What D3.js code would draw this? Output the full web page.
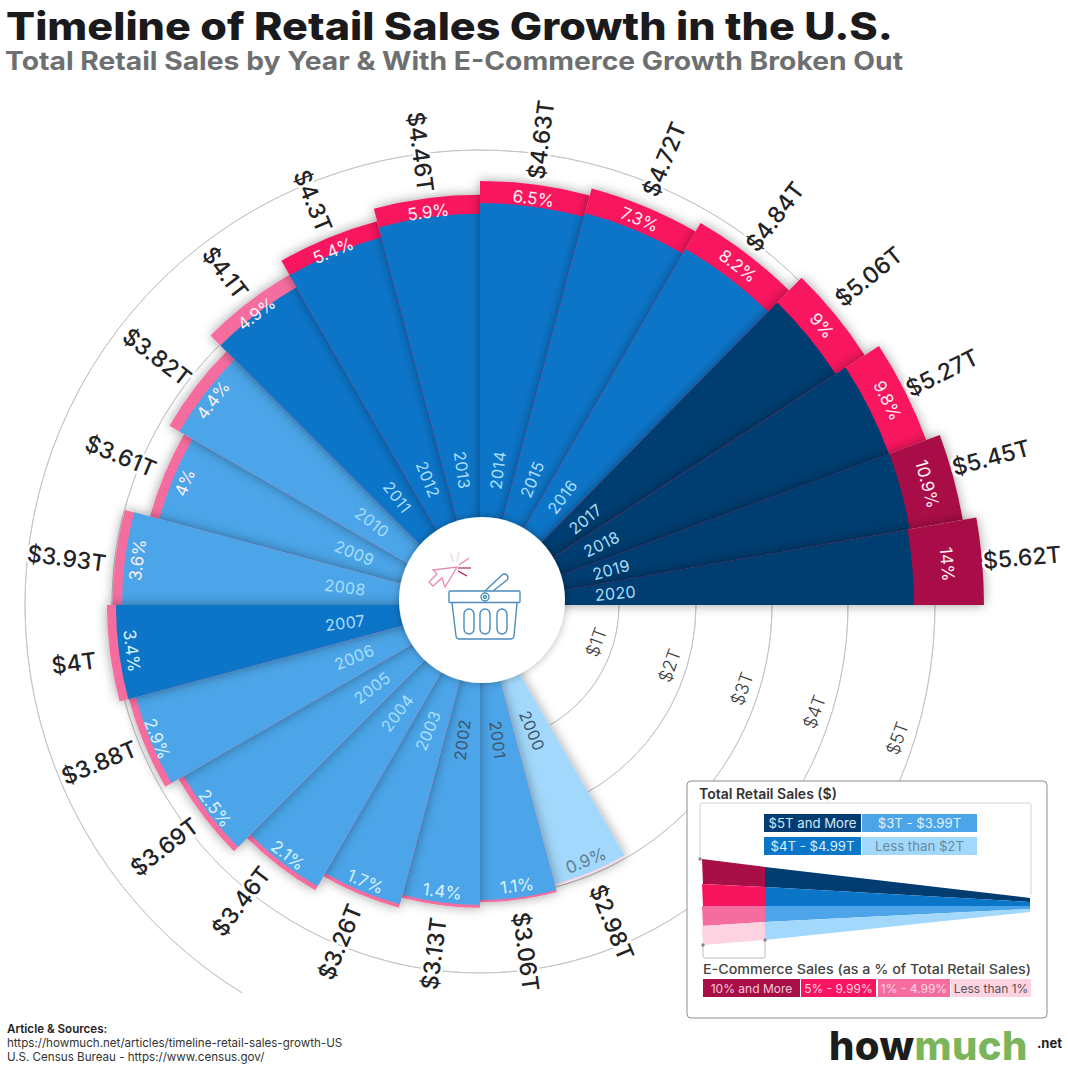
<!DOCTYPE html>
<html><head><meta charset="utf-8">
<script src="https://cdn.jsdelivr.net/npm/d3@7/dist/d3.min.js"></script>
<style>html,body{margin:0;padding:0;background:#fff}svg{display:block}text{font-family:Inter,"Open Sans",sans-serif}</style>
</head><body><svg id="c" width="1068" height="1071" viewBox="0 0 1068 1071"></svg>
<script>
const years=[2000,2001,2002,2003,2004,2005,2006,2007,2008,2009,2010,2011,2012,2013,2014,2015,2016,2017,2018,2019,2020];
const totals=[2.98,3.06,3.13,3.26,3.46,3.69,3.88,4,3.93,3.61,3.82,4.1,4.3,4.46,4.63,4.72,4.84,5.06,5.27,5.45,5.62];
const totalLabels=["$2.98T","$3.06T","$3.13T","$3.26T","$3.46T","$3.69T","$3.88T","$4T","$3.93T","$3.61T","$3.82T","$4.1T","$4.3T","$4.46T","$4.63T","$4.72T","$4.84T","$5.06T","$5.27T","$5.45T","$5.62T"];
const shares=[0.9,1.1,1.4,1.7,2.1,2.5,2.9,3.4,3.6,4,4.4,4.9,5.4,5.9,6.5,7.3,8.2,9,9.8,10.9,14];
const gridValues=[1,2,3,4,5];
const gridLabels=["$1T","$2T","$3T","$4T","$5T"];
const salesLegend=["$5T and More","$3T - $3.99T","$4T - $4.99T","Less than $2T"];
const shareLegend=["10% and More","5% - 9.99%","1% - 4.99%","Less than 1%"];
const title="Timeline of Retail Sales Growth in the U.S.";
const subtitle="Total Retail Sales by Year & With E-Commerce Growth Broken Out";
const sourceLines=["Article & Sources:","https://howmuch.net/articles/timeline-retail-sales-growth-US","U.S. Census Bureau - https://www.census.gov/"];

const svg=d3.select("#c");
const cx=480,cy=605;
const rad=d=>d*Math.PI/180;
const angle=d3.scaleLinear().domain([2000,2016,2017,2018,2019,2020,2021]).range([150,390,404.5,417,429.7,440,450]);
const rScale=d3.scaleLinear().domain([0,5.62]).range([50,504]);
const gridR=d3.scaleLinear().domain(gridValues).range([139,216,292,368,455]);
const bandScale=d3.scaleLinear().domain([0,.11,.35,.52,.6,.8]).range([0,7,26,40,55,71]);
const gapScale=d3.scaleLinear().domain([3,5.62]).range([13,1]);
const gapNudge={2007:6,2015:7,2016:2,2017:7};
const turnNudge={2004:1.5,2007:-.7,2008:-1.2,2017:-1,2019:-1};
const blue=d3.scaleThreshold().domain([3,4,5]).range(["#a2d8fb","#4ba5e8","#0b75c8","#033c70"]);
const pink=d3.scaleThreshold().domain([1,5,10]).range(["#fdd3e2","#f56d9f","#f8155f","#a90f47"]);
const yearInk=y=>y<=2002?"#40566a":"#a9dffb";
const pctInk=s=>s<1?"#5f7f96":(s<3.5?"#d9f2ff":"#fff0f5");
const pctInset=d=>(d.s>=3.4&&d.s<=4.4)?22:Math.max(d.band/2,14);

const defs=svg.append("defs");
const f=defs.append("filter").attr("id","sh").attr("x","-30%").attr("y","-30%").attr("width","160%").attr("height","160%");
f.append("feDropShadow").attr("dx",0).attr("dy",0).attr("stdDeviation",6).attr("flood-color","#000").attr("flood-opacity",.38);
const f2=defs.append("filter").attr("id","sh2").attr("x","-30%").attr("y","-30%").attr("width","160%").attr("height","160%");
f2.append("feDropShadow").attr("dx",0).attr("dy",0).attr("stdDeviation",4).attr("flood-color","#000").attr("flood-opacity",.3);

svg.append("text").text(title).attr("x",6).attr("y",40).attr("font-size",38).attr("font-weight",800).attr("fill","#1a1a1c").attr("textLength",887).attr("lengthAdjust","spacingAndGlyphs");
svg.append("text").text(subtitle).attr("x",5).attr("y",70).attr("font-size",25).attr("font-weight",700).attr("fill","#6e6f71").attr("textLength",898).attr("lengthAdjust","spacingAndGlyphs");

const arcGen=d3.arc();
const gridG=svg.append("g").attr("transform",`translate(${cx},${cy})`);
gridValues.forEach((v,i)=>{
  const full=v<5;
  gridG.append("path").attr("fill","none").attr("stroke","#c4c4c4").attr("stroke-width",.9)
    .attr("d",arcGen({innerRadius:gridR(v),outerRadius:gridR(v),startAngle:rad(full?0:211.5),endAngle:rad(full?360:490)}));
  const p=d3.pointRadial(rad(107.7),gridR(v)-17);
  gridG.append("text").text(gridLabels[i]).attr("transform",`translate(${p[0]},${p[1]}) rotate(-70)`)
    .attr("text-anchor","middle").attr("dominant-baseline","central").attr("font-size",18).attr("font-weight",300).attr("fill","#3a3a3c");
});

const rows=years.map((y,i)=>({y,v:totals[i],s:shares[i],lab:totalLabels[i],a0:angle(y),a1:angle(y+1)}));
rows.forEach(d=>{d.o=rScale(d.v);d.band=bandScale(d.v*d.s/100);d.mid=(d.a0+d.a1)/2;d.b=d.mid%360;});
const chart=svg.append("g").attr("transform",`translate(${cx},${cy})`);
const wedges=chart.selectAll("g.w").data(rows.slice().sort((a,b)=>d3.ascending(a.v,b.v))).join("g").attr("class","w").attr("filter","url(#sh)");
wedges.append("path").attr("fill",d=>pink(d.s)).attr("d",d=>arcGen({innerRadius:0,outerRadius:d.o,startAngle:rad(d.a0),endAngle:rad(d.a1)}));
wedges.append("path").attr("fill",d=>blue(d.v)).attr("d",d=>arcGen({innerRadius:0,outerRadius:d.o-d.band,startAngle:rad(d.a0),endAngle:rad(d.a1)}));

const radialRot=b=>b<180?b-90:b-270;
const tangentRot=b=>(b>90&&b<270)?b-180:(b>=270?b-360:b);
chart.selectAll("text.yr").data(rows).join("text").attr("class","yr").text(d=>d.y)
  .attr("transform",d=>{const p=d3.pointRadial(rad(d.mid),136);return `translate(${p[0]},${p[1]}) rotate(${radialRot(d.b)})`;})
  .attr("text-anchor","middle").attr("dominant-baseline","central").attr("font-size",16).attr("letter-spacing",.4).attr("fill",d=>yearInk(d.y));
chart.selectAll("text.pc").data(rows).join("text").attr("class","pc").text(d=>d.s+"%")
  .attr("transform",d=>{const p=d3.pointRadial(rad(d.mid),d.o-pctInset(d));return `translate(${p[0]},${p[1]}) rotate(${tangentRot(d.b)})`;})
  .attr("text-anchor","middle").attr("dominant-baseline","central").attr("font-size",17).attr("fill",d=>pctInk(d.s));
chart.selectAll("text.tot").data(rows).join("text").attr("class","tot").text(d=>d.lab)
  .attr("transform",d=>{const p=d3.pointRadial(rad(d.mid+(turnNudge[d.y]||0)),d.o+gapScale(d.v)+(gapNudge[d.y]||0));return `translate(${p[0]},${p[1]}) rotate(${radialRot(d.b)})`;})
  .attr("text-anchor",d=>d.b<180?"start":"end").attr("dominant-baseline","central").attr("font-size",23).attr("font-weight",500)
  .attr("fill","#232325").attr("stroke","#fff").attr("stroke-width",5).attr("paint-order","stroke");

// centre badge
const badge=svg.append("g");
badge.append("circle").attr("cx",482).attr("cy",600).attr("r",83).attr("fill","#fff").attr("filter","url(#sh2)");
const ink="#4a8cbd";
const basket=badge.append("g").attr("fill","none").attr("stroke",ink).attr("stroke-width",1.4).attr("stroke-linejoin","round");
basket.append("path").attr("d","M485 591 L502 575 Q505 573 507 575 Q509 578 507 580 L493 591");
basket.append("rect").attr("x",449).attr("y",591).attr("width",71).attr("height",11.5).attr("rx",1);
basket.append("path").attr("d","M452 603 L456 636 Q456.5 639 459 639 L511 639 Q513.5 639 514 636 L517 603");
[469,485,502].forEach(x=>basket.append("rect").attr("x",x-5).attr("y",609).attr("width",10).attr("height",25).attr("rx",5));
basket.append("circle").attr("cx",485).attr("cy",597).attr("r",4).attr("fill","#fff");
basket.append("circle").attr("cx",485).attr("cy",597).attr("r",1.5);
const cur=badge.append("g").attr("fill","none");
cur.append("path").attr("d","M433 570 L457 567 L445 587 L442 578 L433 586 L429 582 L437 574 Z").attr("stroke","#e58ab2").attr("stroke-width",1.3);
[["M451 553 L453 562","#f7cfdf"],["M459 552 L457 562","#f7cfdf"],["M469 558 L459 565","#ee7fab"],["M471 568 L458 568","#b0285e"],["M467 576 L458 571","#a90f47"]].forEach(s=>cur.append("path").attr("d",s[0]).attr("stroke",s[1]).attr("stroke-width",1.2));

// legend panel
const leg=svg.append("g");
leg.append("rect").attr("x",687).attr("y",781).attr("width",360).attr("height",237).attr("rx",4).attr("fill","#fff").attr("stroke","#8e8e8e").attr("stroke-width",1);
leg.append("text").text("Total Retail Sales ($)").attr("x",699).attr("y",799).attr("font-size",14).attr("font-weight",600).attr("fill","#333");
leg.append("path").attr("d","M700 859 L700 805 Q700 803 702 803 L1029 803 Q1031 803 1031 805 L1031 895").attr("fill","none").attr("stroke","#d2d2d2");
const salesBoxes=[[764,814,97,18,"#033c70","#cfeaff"],[862,814,115,18,"#4ba5e8","#e2f3ff"],[764,837,97,18,"#0b75c8","#d9f0ff"],[862,837,115,18,"#a2d8fb","#6a8a9e"]];
salesBoxes.forEach((b,i)=>{
  leg.append("rect").attr("x",b[0]).attr("y",b[1]).attr("width",b[2]).attr("height",b[3]).attr("fill",b[4]);
  leg.append("text").text(salesLegend[i]).attr("x",b[0]+b[2]/2).attr("y",b[1]+b[3]/2).attr("text-anchor","middle").attr("dominant-baseline","central").attr("font-size",13.2).attr("fill",b[5]);
});
const poly=(pts,fill)=>leg.append("polygon").attr("points",pts.map(p=>p.join(",")).join(" ")).attr("fill",fill);
const bt=[867,887,906,922,940],pl=[859,884,906,926,945],rt=[898,902,906,909,912];
const blues=["#033c70","#0b75c8","#4ba5e8","#a2d8fb"],pinks=["#a90f47","#f8155f","#f56d9f","#fdd3e2"];
blues.forEach((c,i)=>{
  poly([[765,bt[i]],[1030,rt[i]],[1030,rt[i+1]],[765,bt[i+1]]],c);
  poly([[702,pl[i]],[765,bt[i]],[765,bt[i+1]],[703,pl[i+1]]],pinks[i]);
});
leg.append("path").attr("d","M703 945 L703 956 Q703 958 705 958 L763 958 Q765 958 765 956 L765 940").attr("fill","none").attr("stroke","#bdbdbd");
[[700,859],[703,945],[765,940]].forEach(p=>leg.append("circle").attr("cx",p[0]).attr("cy",p[1]).attr("r",1.7).attr("fill","#888"));
leg.append("text").text("E-Commerce Sales (as a % of Total Retail Sales)").attr("x",703).attr("y",974).attr("font-size",13).attr("font-weight",500).attr("fill","#444").attr("textLength",328).attr("lengthAdjust","spacingAndGlyphs");
const shareBoxes=[[703,97,"#a90f47","#f7c9da"],[801,75,"#f8155f","#ffd6e4"],[878,72,"#f56d9f","#ffd6e4"],[951,80,"#fdd3e2","#555"]];
shareBoxes.forEach((b,i)=>{
  leg.append("rect").attr("x",b[0]).attr("y",979).attr("width",b[1]).attr("height",18).attr("fill",b[2]);
  leg.append("text").text(shareLegend[i]).attr("x",b[0]+b[1]/2).attr("y",988).attr("text-anchor","middle").attr("dominant-baseline","central").attr("font-size",12).attr("fill",b[3]);
});

// logo and sources
const logoHow=svg.append("text").text("how").attr("x",829).attr("y",1060).attr("font-size",40).attr("font-weight",800).attr("letter-spacing",.4).attr("fill","#1d1d1b");
svg.append("text").text("much").attr("x",829+logoHow.node().getComputedTextLength()).attr("y",1060).attr("font-size",40).attr("font-weight",800).attr("letter-spacing",.4).attr("fill","#7ab55c");
svg.append("text").text(".net").attr("x",1037).attr("y",1048).attr("font-size",13).attr("font-weight",700).attr("fill","#1d1d1b");
sourceLines.forEach((s,i)=>svg.append("text").text(s).attr("x",7).attr("y",1033+14*i).attr("font-size",11.6).attr("font-weight",i?400:600).attr("fill",i?"#333":"#222"));
</script></body></html>
